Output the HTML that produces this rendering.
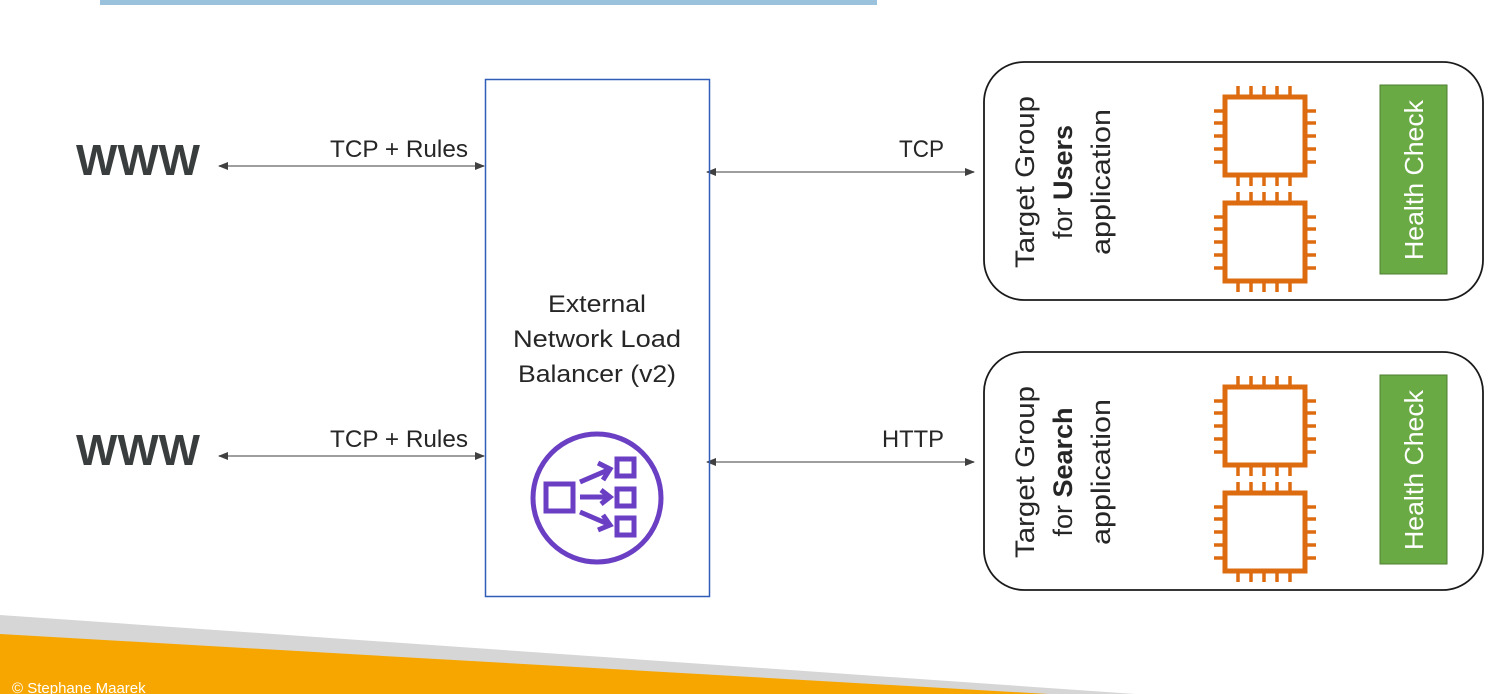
<!DOCTYPE html>
<html><head><meta charset="utf-8"><style>
html,body{margin:0;padding:0;background:#fff;}
svg{display:block;}
text{font-family:"Liberation Sans",sans-serif;}
</style></head><body>
<svg width="1511" height="694" viewBox="0 0 1511 694" xmlns="http://www.w3.org/2000/svg">
<defs>
<marker id="ah" viewBox="0 0 10 10" refX="9" refY="5" markerWidth="10" markerHeight="10" markerUnits="userSpaceOnUse" orient="auto-start-reverse">
<path d="M0,1 L10,5 L0,9 Z" fill="#404040"/></marker>
<g id="chip">
<rect x="0" y="0" width="80" height="78" fill="#fff" stroke="#DD6B10" stroke-width="5"/>
<g stroke="#DD6B10" stroke-width="3.5">
<path d="M13,-11V0M26,-11V0M39,-11V0M52,-11V0M65,-11V0"/>
<path d="M13,78V89M26,78V89M39,78V89M52,78V89M65,78V89"/>
<path d="M-11,14H0M-11,26H0M-11,39H0M-11,52H0M-11,65H0"/>
<path d="M80,14H91M80,26H91M80,39H91M80,52H91M80,65H91"/>
</g></g>
</defs>
<rect x="100" y="0" width="777" height="5" fill="#9BC2DC"/>
<!-- footer -->
<polygon points="0,615 1135,694 0,694" fill="#D6D6D6"/>
<polygon points="0,634 1048,694 0,694" fill="#F7A600"/>
<text x="12" y="693" font-size="15" fill="#fff">© Stephane Maarek</text>
<!-- WWW -->
<text x="76" y="175" font-size="44" font-weight="bold" fill="#3a3d3d" textLength="124" lengthAdjust="spacingAndGlyphs">WWW</text>
<text x="76" y="465" font-size="44" font-weight="bold" fill="#3a3d3d" textLength="124" lengthAdjust="spacingAndGlyphs">WWW</text>
<g stroke="#7f7f7f" stroke-width="1.5" marker-start="url(#ah)" marker-end="url(#ah)">
<line x1="219" y1="166" x2="484" y2="166"/>
<line x1="219" y1="456" x2="484" y2="456"/>
<line x1="707" y1="172" x2="974" y2="172"/>
<line x1="707" y1="462" x2="974" y2="462"/>
</g>
<g font-size="24" fill="#262626">
<text x="330" y="157" textLength="138" lengthAdjust="spacingAndGlyphs">TCP + Rules</text>
<text x="330" y="447" textLength="138" lengthAdjust="spacingAndGlyphs">TCP + Rules</text>
<text x="899" y="157" textLength="45" lengthAdjust="spacingAndGlyphs">TCP</text>
<text x="882" y="447" textLength="62" lengthAdjust="spacingAndGlyphs">HTTP</text>
</g>
<!-- LB -->
<rect x="485.5" y="79.5" width="224" height="517" fill="none" stroke="#2F5DB8" stroke-width="1.5"/>
<g font-size="24" fill="#262626" text-anchor="middle">
<text x="597" y="312" textLength="98" lengthAdjust="spacingAndGlyphs">External</text>
<text x="597" y="347" textLength="168" lengthAdjust="spacingAndGlyphs">Network Load</text>
<text x="597" y="382" textLength="158" lengthAdjust="spacingAndGlyphs">Balancer (v2)</text>
</g>
<g stroke="#6B3FC4" stroke-width="5" fill="none">
<circle cx="597" cy="498" r="64"/>
<rect x="546" y="484" width="27" height="27"/>
<rect x="617" y="459" width="17" height="17"/>
<rect x="617" y="489" width="17" height="17"/>
<rect x="617" y="518" width="17" height="17"/>
<path d="M580,482 L608,470 M580,497 L608,497 M580,512 L608,524"/>
<path d="M598,463 L610,469 L603,480 M601,490 L610,497 L601,504 M603,515 L610,525 L598,530"/>
</g>
<!-- groups -->
<rect x="984" y="62" width="499" height="238" rx="40" fill="none" stroke="#1a1a1a" stroke-width="1.8"/>
<rect x="984" y="352" width="499" height="238" rx="40" fill="none" stroke="#1a1a1a" stroke-width="1.8"/>
<g font-size="27" fill="#262626" text-anchor="middle">
<text transform="translate(1034,182) rotate(-90)" textLength="172" lengthAdjust="spacingAndGlyphs">Target Group</text>
<text transform="translate(1072,182) rotate(-90)">for <tspan font-weight="bold">Users</tspan></text>
<text transform="translate(1110,182) rotate(-90)" textLength="146" lengthAdjust="spacingAndGlyphs">application</text>
<text transform="translate(1034,472) rotate(-90)" textLength="172" lengthAdjust="spacingAndGlyphs">Target Group</text>
<text transform="translate(1072,472) rotate(-90)">for <tspan font-weight="bold">Search</tspan></text>
<text transform="translate(1110,472) rotate(-90)" textLength="146" lengthAdjust="spacingAndGlyphs">application</text>
</g>
<use href="#chip" x="1225" y="97"/>
<use href="#chip" x="1225" y="203"/>
<use href="#chip" x="1225" y="387"/>
<use href="#chip" x="1225" y="493"/>
<rect x="1380" y="85" width="67" height="189" fill="#6AAA45" stroke="#4C7F2E" stroke-width="1"/>
<rect x="1380" y="375" width="67" height="189" fill="#6AAA45" stroke="#4C7F2E" stroke-width="1"/>
<g font-size="26" fill="#fff" text-anchor="middle">
<text transform="translate(1423,180) rotate(-90)" textLength="160" lengthAdjust="spacingAndGlyphs">Health Check</text>
<text transform="translate(1423,470) rotate(-90)" textLength="160" lengthAdjust="spacingAndGlyphs">Health Check</text>
</g>
</svg>
</body></html>
